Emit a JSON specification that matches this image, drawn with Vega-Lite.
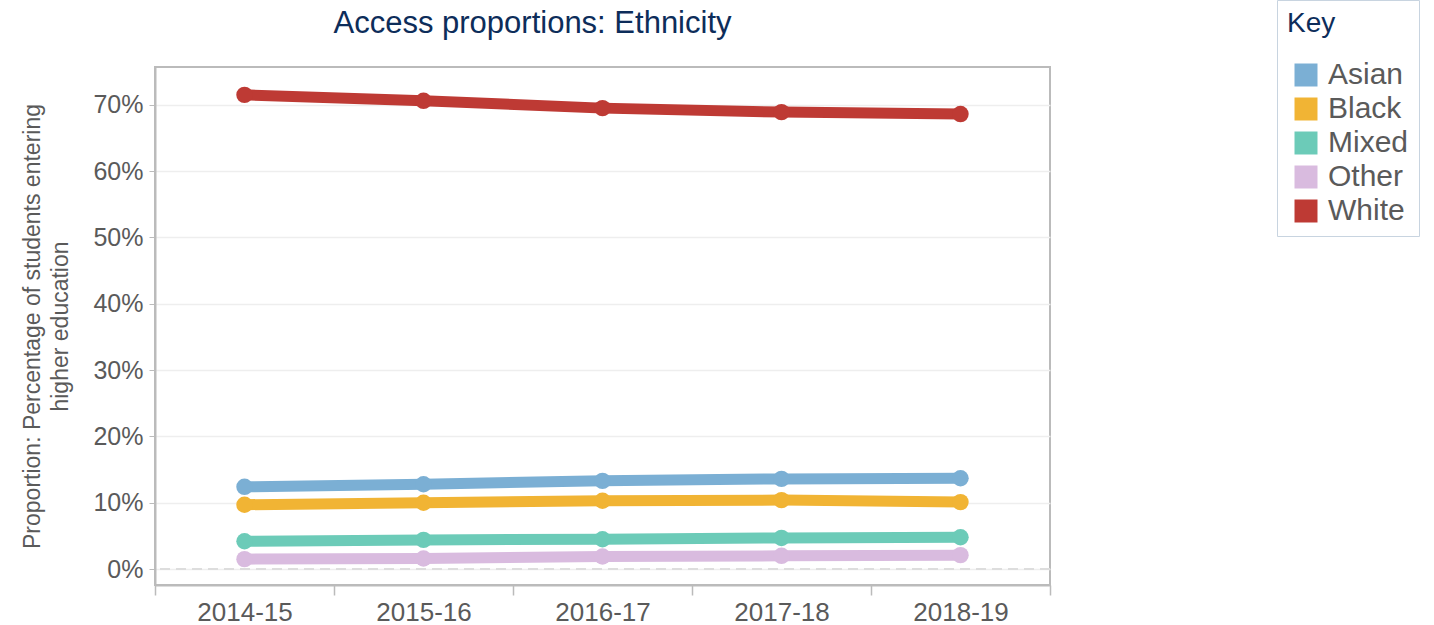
{
  "$schema": "https://vega.github.io/schema/vega-lite/v6.json",
  "autosize": "none",
  "width": 895,
  "height": 518,
  "padding": {"left": 155, "top": 67, "right": 384, "bottom": 40},
  "background": "white",
  "config": {
    "font": "Liberation Sans",
    "view": {"stroke": "#bbbbbb", "strokeWidth": 2},
    "axis": {"labelFont": "Liberation Sans", "titleFont": "Liberation Sans"}
  },
  "title": {
    "text": "Access proportions: Ethnicity",
    "fontSize": 31,
    "fontWeight": "normal",
    "color": "#0d2d5a",
    "anchor": "middle",
    "frame": "group",
    "dx": -70,
    "offset": -40
  },
  "data": {
    "values": [
      {"year": "2014-15", "group": "Asian", "value": 0.124},
      {"year": "2015-16", "group": "Asian", "value": 0.128},
      {"year": "2016-17", "group": "Asian", "value": 0.133},
      {"year": "2017-18", "group": "Asian", "value": 0.136},
      {"year": "2018-19", "group": "Asian", "value": 0.137},
      {"year": "2014-15", "group": "Black", "value": 0.097},
      {"year": "2015-16", "group": "Black", "value": 0.100},
      {"year": "2016-17", "group": "Black", "value": 0.103},
      {"year": "2017-18", "group": "Black", "value": 0.104},
      {"year": "2018-19", "group": "Black", "value": 0.101},
      {"year": "2014-15", "group": "Mixed", "value": 0.042},
      {"year": "2015-16", "group": "Mixed", "value": 0.044},
      {"year": "2016-17", "group": "Mixed", "value": 0.045},
      {"year": "2017-18", "group": "Mixed", "value": 0.047},
      {"year": "2018-19", "group": "Mixed", "value": 0.048},
      {"year": "2014-15", "group": "Other", "value": 0.015},
      {"year": "2015-16", "group": "Other", "value": 0.016},
      {"year": "2016-17", "group": "Other", "value": 0.019},
      {"year": "2017-18", "group": "Other", "value": 0.020},
      {"year": "2018-19", "group": "Other", "value": 0.021},
      {"year": "2014-15", "group": "White", "value": 0.715},
      {"year": "2015-16", "group": "White", "value": 0.706},
      {"year": "2016-17", "group": "White", "value": 0.695},
      {"year": "2017-18", "group": "White", "value": 0.689},
      {"year": "2018-19", "group": "White", "value": 0.686}
    ]
  },
  "encoding": {
    "x": {
      "field": "year",
      "type": "ordinal",
      "scale": {"type": "band", "paddingInner": 0, "paddingOuter": 0},
      "axis": {
        "title": null,
        "labelAngle": 0,
        "labelFontSize": 26,
        "labelColor": "#5a5a5a",
        "labelPadding": 4,
        "tickBand": "extent",
        "tickSize": 10,
        "tickColor": "#bbbbbb",
        "tickWidth": 1.5,
        "domainColor": "#bbbbbb",
        "domainWidth": 2,
        "grid": false
      }
    },
    "y": {
      "field": "value",
      "type": "quantitative",
      "scale": {"domain": [-0.024, 0.757], "nice": false, "zero": false},
      "axis": {
        "title": ["Proportion: Percentage of students entering", "higher education"],
        "titleFontSize": 23,
        "titleFontWeight": "normal",
        "titleColor": "#5a5a5a",
        "titlePadding": 20,
        "titleLineHeight": 28,
        "format": ".0%",
        "values": [0, 0.1, 0.2, 0.3, 0.4, 0.5, 0.6, 0.7],
        "labelFontSize": 25,
        "labelColor": "#5a5a5a",
        "labelPadding": 6,
        "tickSize": 6,
        "tickColor": "#bbbbbb",
        "domainColor": "#bbbbbb",
        "domainWidth": 2,
        "gridColor": "#eeeeee",
        "gridWidth": 1.5
      }
    },
    "color": {
      "field": "group",
      "type": "nominal",
      "scale": {
        "domain": ["Asian", "Black", "Mixed", "Other", "White"],
        "range": ["#7bafd4", "#f1b434", "#6ccbb8", "#d9bbdf", "#be3a34"]
      },
      "legend": {
        "title": "Key",
        "orient": "none",
        "legendX": 1122,
        "legendY": -67,
        "titleFontSize": 28,
        "titleFontWeight": "normal",
        "titleColor": "#0d2d5a",
        "titlePadding": 22,
        "labelFontSize": 30,
        "labelColor": "#5a5a5a",
        "symbolType": "square",
        "symbolSize": 529,
        "symbolStrokeWidth": 0,
        "symbolOpacity": 1,
        "symbolOffset": 4,
        "rowPadding": 4,
        "labelOffset": 7,
        "strokeColor": "#c8d4e0",
        "padding": 10,
        "offset": 0
      }
    }
  },
  "layer": [
    {
      "mark": {"type": "rule", "color": "#dddddd", "strokeWidth": 2, "strokeDash": [10, 6]},
      "encoding": {
        "y": {"datum": 0},
        "x": null,
        "color": null
      }
    },
    {
      "mark": {"type": "line", "strokeWidth": 11, "strokeCap": "round"}
    },
    {
      "mark": {"type": "point", "filled": true, "size": 270, "opacity": 1}
    }
  ]
}
